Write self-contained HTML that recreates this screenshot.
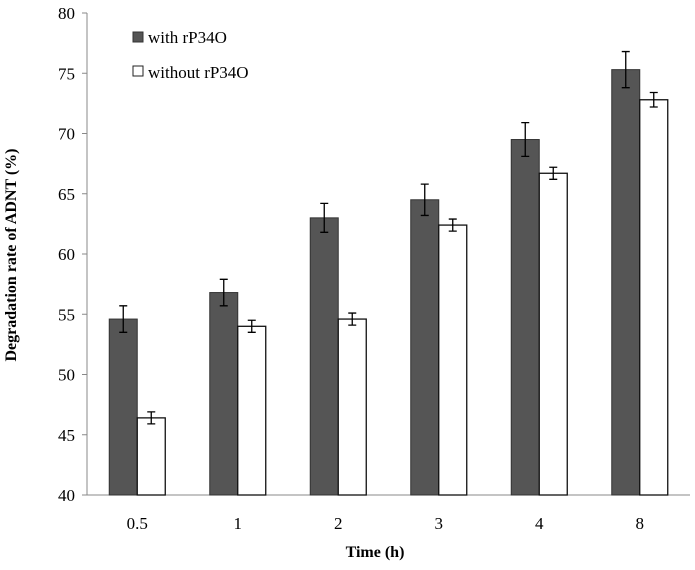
<!DOCTYPE html>
<html><head><meta charset="utf-8"><style>
html,body{margin:0;padding:0;background:#fff;}
svg{display:block;font-family:"Liberation Serif",serif;}
</style></head><body>
<svg width="695" height="570">
<g id="plot"></g>
<text x="16" y="255" transform="rotate(-90 16 255)" text-anchor="middle" font-weight="bold" font-size="16">Degradation rate of ADNT (%)</text>
<text x="375" y="557" text-anchor="middle" font-weight="bold" font-size="16">Time (h)</text>
<g>
<rect x="133" y="32" width="10" height="10" fill="#555" stroke="#333"/>
<text x="148" y="43" font-size="17">with rP34O</text>
<rect x="133" y="66" width="10" height="10" fill="#fff" stroke="#222"/>
<text x="148" y="78" font-size="17">without rP34O</text>
</g>
</svg>
<script>
const categories=["0.5","1","2","3","4","8"];
const withVals=[54.6,56.8,63.0,64.5,69.5,75.3];
const withErr=[1.1,1.1,1.2,1.3,1.4,1.5];
const withoutVals=[46.4,54.0,54.6,62.4,66.7,72.8];
const withoutErr=[0.5,0.5,0.5,0.5,0.5,0.6];
const yTicks=[40,45,50,55,60,65,70,75,80];

const NS="http://www.w3.org/2000/svg";
const g=document.getElementById('plot');
const x0=87,x1=690,yb=495,yt=13,ymin=40,ymax=80;
const y=v=>yb-(v-ymin)/(ymax-ymin)*(yb-yt);
const step=(x1-x0)/categories.length;
const cx=i=>x0+step*(i+0.5);
const bw=28;
function mk(t,a){const e=document.createElementNS(NS,t);for(const k in a)e.setAttribute(k,a[k]);g.appendChild(e);return e;}
let e=mk('line',{x1:x0,y1:yt,x2:x0,y2:yb,stroke:'#888','stroke-width':1});


e=mk('line',{x1:x0-5,y1:yb,x2:x1,y2:yb,stroke:'#888','stroke-width':1});


yTicks.forEach(v=>{
 let t=mk('line',{x1:x0-5,y1:y(v),x2:x0,y2:y(v),stroke:'#888'});
 
 
 let l=mk('text',{x:x0-12,y:y(v)+6,'text-anchor':'end','font-size':17});
 l.textContent=v;
 
 
});
function err(xc,v,d){
 const p=mk('path',{d:`M${xc},${y(v+d)}V${y(v-d)}M${xc-4},${y(v+d)}H${xc+4}M${xc-4},${y(v-d)}H${xc+4}`,stroke:'#000','stroke-width':1.3,fill:'none'});
 
 
}
categories.forEach((c,i)=>{
 const c0=cx(i);
 let r=mk('rect',{x:c0-bw,y:y(withVals[i]),width:bw,height:yb-y(withVals[i]),fill:'#555',stroke:'#333','stroke-width':1});
 
 
 r=mk('rect',{x:c0,y:y(withoutVals[i]),width:bw,height:yb-y(withoutVals[i]),fill:'#fff',stroke:'#111','stroke-width':1.3});
 
 
 err(c0-bw/2,withVals[i],withErr[i]);
 err(c0+bw/2,withoutVals[i],withoutErr[i]);
 let l=mk('text',{x:c0,y:529,'text-anchor':'middle','font-size':17});
 l.textContent=c;
 
 
});
</script>
</body></html>
